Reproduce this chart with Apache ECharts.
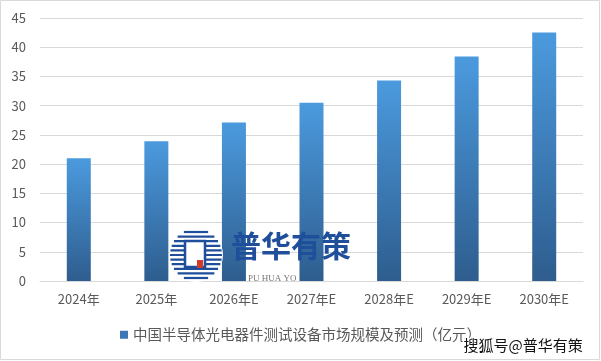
<!DOCTYPE html>
<html><head><meta charset="utf-8">
<script src="https://cdn.jsdelivr.net/npm/echarts@6/dist/echarts.min.js"></script>
<style>html,body{margin:0;padding:0;background:#fff}#c{width:601px;height:361px}</style>
</head><body><div id="c"></div>
<script>
const categories = ['2024年','2025年','2026年E','2027年E','2028年E','2029年E','2030年E'];
const values = [21.0, 23.9, 27.1, 30.5, 34.3, 38.4, 42.5];
const seriesName = '中国半导体光电器件测试设备市场规模及预测（亿元）';
const yMin = 0, yMax = 45, yStep = 5;

const chart = echarts.init(document.getElementById('c'), null, {renderer:'canvas'});
const grad = new echarts.graphic.LinearGradient(0,0,0,1,[
  {offset:0,color:'#4b9ade'},{offset:1,color:'#2e5d8e'}]);
const font = '"Noto Sans CJK SC", "Noto Sans", sans-serif';
const logoCx = 196, logoCy = 255, logoR = 26;
const stripes = [];
for (let i = -5; i <= 5; i++) {
  const y = i * 4.6;
  const half = Math.sqrt(Math.max(0, logoR*logoR - y*y));
  stripes.push({type:'line', silent:true, z:101,
    shape:{x1:logoCx-half, y1:logoCy+y, x2:logoCx+half, y2:logoCy+y},
    style:{stroke:'#1f4e9a', lineWidth:2.2}});
}
chart.setOption({
  animation:false,
  backgroundColor:'#fff',
  textStyle:{fontFamily:font},
  grid:{left:40, right:18, top:18, bottom:80, containLabel:false},
  xAxis:{type:'category', data:categories,
    axisLine:{lineStyle:{color:'#d9d9d9'}}, axisTick:{show:false},
    axisLabel:{color:'#595959', fontSize:13, margin:12, fontFamily:font}},
  yAxis:{type:'value', min:yMin, max:yMax, interval:yStep,
    axisLine:{show:false}, axisTick:{show:false},
    splitLine:{lineStyle:{color:'#d9d9d9'}},
    axisLabel:{color:'#595959', fontSize:13, margin:14, fontFamily:font}},
  legend:{bottom:14, left:'center', itemWidth:8, itemHeight:8, icon:'rect', itemGap:6,
    textStyle:{color:'#595959', fontSize:14.5, fontFamily:font},
    data:[{name:seriesName, itemStyle:{color:'#3d78b4'}}]},
  series:[{name:seriesName, type:'bar', data:values, barWidth:24,
    itemStyle:{color:grad}}],
  graphic:[
    {type:'rect', silent:true, z:0, shape:{x:0.5,y:0.5,width:599,height:359},
      style:{fill:'none', stroke:'#d9d9d9', lineWidth:1}},
    {type:'circle', silent:true, z:100, shape:{cx:logoCx, cy:logoCy, r:logoR+1},
      style:{fill:'#fff'}},
    ...stripes,
    {type:'rect', silent:true, z:102, shape:{x:logoCx-11,y:logoCy-14,width:20,height:26},
      style:{fill:'#fff', stroke:'#1f4e9a', lineWidth:2.5}},
    {type:'rect', silent:true, z:103, shape:{x:logoCx+1,y:logoCy+5,width:6,height:8},
      style:{fill:'#d23a2a'}},
    {type:'text', silent:true, z:100, left:231, top:231,
      style:{text:'普华有策', fill:'#1f4e9a', font:'bold 30px "Noto Sans CJK SC", sans-serif'}},
    {type:'text', silent:true, z:100, left:248, top:274,
      style:{text:'PU HUA YO', fill:'#777', font:'9px "Liberation Serif", serif'}},
    {type:'text', silent:true, z:110, left:462, top:336,
      style:{text:'搜狐号@普华有策', fill:'#111', font:'15px "Noto Sans CJK SC", sans-serif',
        stroke:'#fff', lineWidth:3}}
  ]
});
</script></body></html>
